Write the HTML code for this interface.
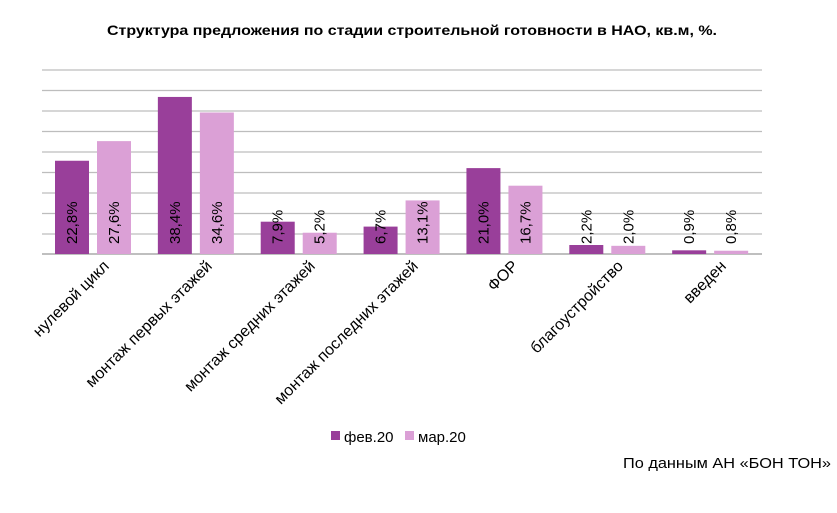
<!DOCTYPE html>
<html><head><meta charset="utf-8"><style>
body{margin:0;background:#fff;}
svg text{font-family:"Liberation Sans","DejaVu Sans",sans-serif;fill:#000;}
</style></head><body>
<svg width="837" height="508" xmlns="http://www.w3.org/2000/svg">
<text x="107" y="35" font-size="14" font-weight="bold" textLength="610" lengthAdjust="spacingAndGlyphs">Структура предложения по стадии строительной готовности в НАО, кв.м, %.</text>
<g stroke="#bdbdbd" stroke-width="1.3">
<line x1="42" x2="762" y1="70" y2="70"/><line x1="42" x2="762" y1="90.5" y2="90.5"/>
<line x1="42" x2="762" y1="111" y2="111"/><line x1="42" x2="762" y1="131.5" y2="131.5"/>
<line x1="42" x2="762" y1="152" y2="152"/><line x1="42" x2="762" y1="172.5" y2="172.5"/>
<line x1="42" x2="762" y1="193" y2="193"/><line x1="42" x2="762" y1="213.5" y2="213.5"/>
<line x1="42" x2="762" y1="234" y2="234"/><line x1="42" x2="762" y1="254" y2="254" stroke="#999"/>
</g>
<g fill="#993f9a">
<rect x="55" y="160.75" width="34" height="93.25"/>
<rect x="157.86" y="96.94" width="34" height="157.06"/>
<rect x="260.72" y="221.69" width="34" height="32.31"/>
<rect x="363.58" y="226.6" width="34" height="27.4"/>
<rect x="466.44" y="168.11" width="34" height="85.89"/>
<rect x="569.3" y="245" width="34" height="9"/>
<rect x="672.16" y="250.32" width="34" height="3.68"/>
</g>
<g fill="#dba0d6">
<rect x="97" y="141.12" width="34" height="112.88"/>
<rect x="199.86" y="112.49" width="34" height="141.51"/>
<rect x="302.72" y="232.73" width="34" height="21.27"/>
<rect x="405.58" y="200.42" width="34" height="53.58"/>
<rect x="508.44" y="185.7" width="34" height="68.3"/>
<rect x="611.3" y="245.82" width="34" height="8.18"/>
<rect x="714.16" y="250.73" width="34" height="3.27"/>
</g>
<g font-size="15">
<text transform="translate(77,244) rotate(-90)">22,8%</text>
<text transform="translate(119,244) rotate(-90)">27,6%</text>
<text transform="translate(179.86,244) rotate(-90)">38,4%</text>
<text transform="translate(221.86,244) rotate(-90)">34,6%</text>
<text transform="translate(282.72,244) rotate(-90)">7,9%</text>
<text transform="translate(324.72,244) rotate(-90)">5,2%</text>
<text transform="translate(385.58,244) rotate(-90)">6,7%</text>
<text transform="translate(427.58,244) rotate(-90)">13,1%</text>
<text transform="translate(488.44,244) rotate(-90)">21,0%</text>
<text transform="translate(530.44,244) rotate(-90)">16,7%</text>
<text transform="translate(591.3,244) rotate(-90)">2,2%</text>
<text transform="translate(633.3,244) rotate(-90)">2,0%</text>
<text transform="translate(694.16,244) rotate(-90)">0,9%</text>
<text transform="translate(736.16,244) rotate(-90)">0,8%</text>
</g>
<g font-size="16" text-anchor="end">
<text transform="translate(110,267) rotate(-45)">нулевой цикл</text>
<text transform="translate(213,267) rotate(-45)">монтаж первых этажей</text>
<text transform="translate(316,267) rotate(-45)">монтаж средних этажей</text>
<text transform="translate(419,267) rotate(-45)">монтаж последних этажей</text>
<text transform="translate(519,267) rotate(-45)">ФОР</text>
<text transform="translate(624,267) rotate(-45)">благоустройство</text>
<text transform="translate(727,267) rotate(-45)">введен</text>
</g>
<g font-size="15">
<rect x="331" y="431" width="9" height="9" fill="#993f9a"/><text x="344" y="442">фев.20</text>
<rect x="405" y="431" width="9" height="9" fill="#dba0d6"/><text x="418" y="442">мар.20</text>
</g>
<text x="623" y="468" font-size="15" textLength="208" lengthAdjust="spacingAndGlyphs">По данным АН «БОН ТОН»</text>
</svg>
</body></html>
